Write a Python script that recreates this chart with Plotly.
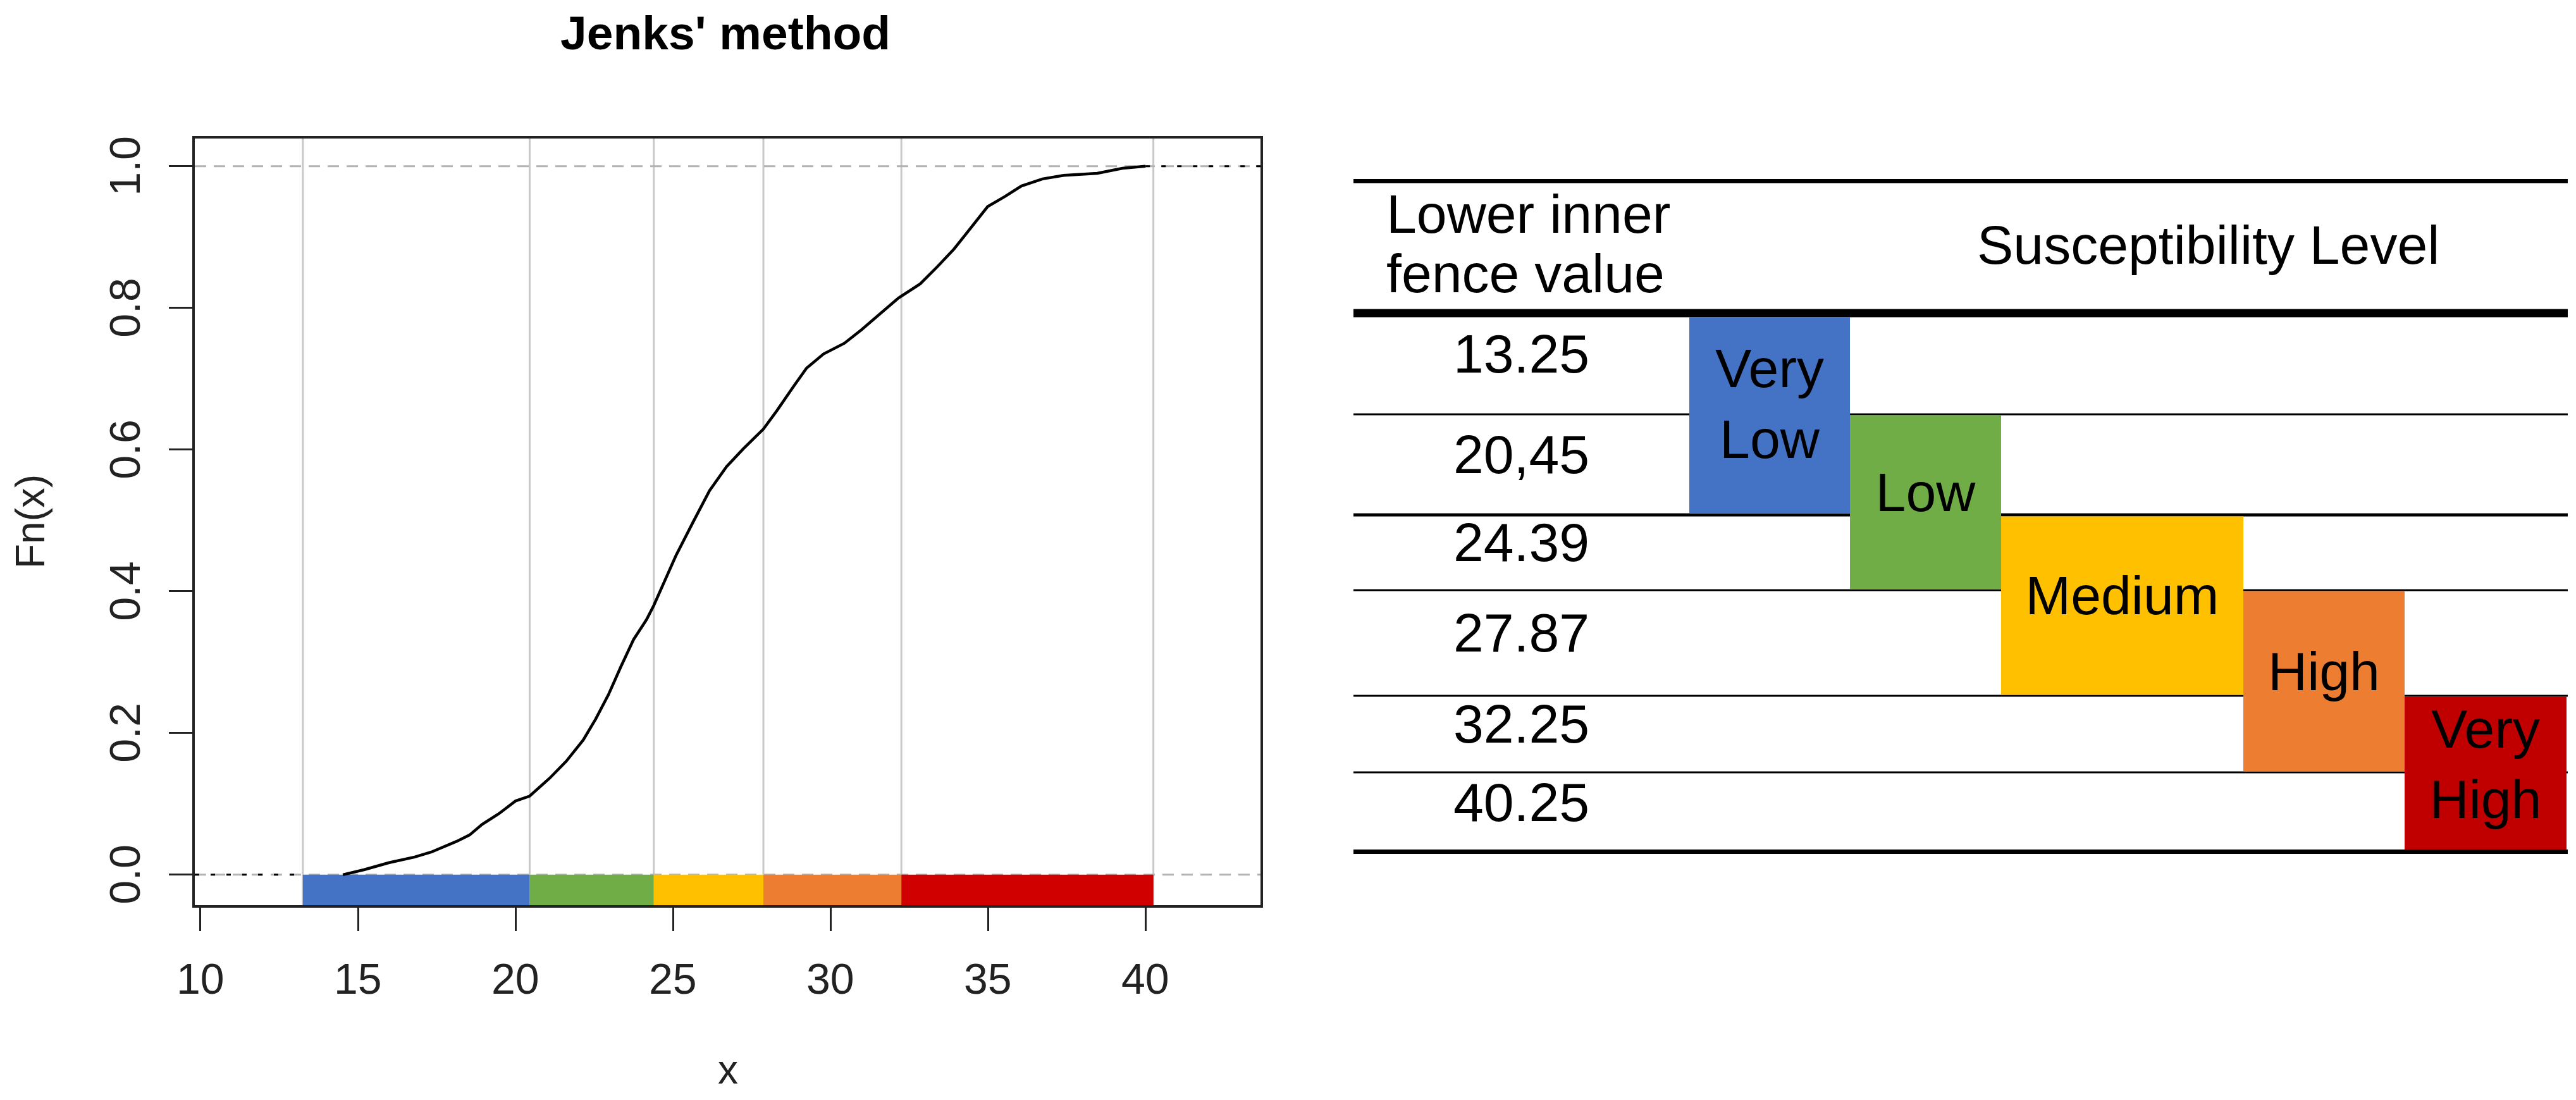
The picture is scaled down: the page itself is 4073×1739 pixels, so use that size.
import plotly.graph_objects as go

# ---------------- data ----------------
ecdf_x = [14.52, 15.19, 15.99, 16.80, 17.33, 18.13, 18.54, 18.94, 19.47, 20.00, 20.45,
          21.08, 21.61, 22.15, 22.55, 22.95, 23.35, 23.75, 24.16, 24.39, 24.69, 25.09,
          25.63, 26.16, 26.70, 27.23, 27.87, 28.30, 28.84, 29.24, 29.78, 30.44, 30.98,
          31.51, 32.16, 32.85, 33.39, 33.92, 34.46, 34.99, 35.53, 36.06, 36.73, 37.40,
          38.47, 39.27, 40.00]
ecdf_y = [0.000, 0.007, 0.017, 0.025, 0.032, 0.047, 0.056, 0.071, 0.086, 0.104, 0.111,
          0.136, 0.160, 0.190, 0.220, 0.254, 0.294, 0.332, 0.360, 0.380, 0.410, 0.450,
          0.497, 0.542, 0.576, 0.601, 0.629, 0.655, 0.690, 0.715, 0.735, 0.750, 0.769,
          0.789, 0.814, 0.834, 0.858, 0.883, 0.913, 0.943, 0.957, 0.972, 0.982, 0.987,
          0.990, 0.997, 1.000]
breaks = [13.25, 20.45, 24.39, 27.87, 32.25, 40.25]
fence_labels = ["13.25", "20,45", "24.39", "27.87", "32.25", "40.25"]
levels = ["Very<br>Low", "Low", "Medium", "High", "Very<br>High"]
level_colors = ["#4472C4", "#70AD47", "#FFC000", "#ED7D31", "#C00000"]
bar_colors = ["#4472C4", "#70AD47", "#FFC000", "#ED7D31", "#D00000"]
x_ticks = [10, 15, 20, 25, 30, 35, 40]
x_ticktext = ["10", "15", "20", "25", "30", "35", "40"]
y_ticks = [0.0, 0.2, 0.4, 0.6, 0.8, 1.0]
y_ticktext = ["0.0", "0.2", "0.4", "0.6", "0.8", "1.0"]

# ---------------- layout constants ----------------
W, H = 4073, 1739          # window size
OFF = 8                    # default body margin of the page
FW, FH = W - 2 * OFF, H - 2 * OFF
XR = [9.82, 43.65]
YR = [-0.043, 1.039]
plot_px = dict(l=308, r=1993, t=219, b=1431)
tab_px = dict(l=2140, r=4060, t=283, b=1350)
xtick_label_y = 1547
ytick_label_x = 197
col_widths = [531, 254, 239, 383, 255, 256]
row_heights = [212, 160, 159, 119, 167, 121, 127]
row_line_widths = [13, 13, 3, 5, 3, 3, 3, 10]
text_nudge = -8
FONT = "Liberation Sans, Arial, sans-serif"
INK = "#222222"


def fx(px):
    return (px - OFF) / FW


def fy(py):
    return 1 - (py - OFF) / FH


col_edges = [0]
for w in col_widths:
    col_edges.append(col_edges[-1] + w)
row_edges = [0]
for h in row_heights:
    row_edges.append(row_edges[-1] + h)
tab_w = tab_px["r"] - tab_px["l"]
tab_h = tab_px["b"] - tab_px["t"]

fig = go.Figure()

# ECDF curve
fig.add_trace(go.Scatter(x=ecdf_x, y=ecdf_y, mode="lines",
                         line=dict(color="black", width=4.5), xaxis="x", yaxis="y",
                         showlegend=False, hoverinfo="skip"))
# dotted extensions
fig.add_trace(go.Scatter(x=[XR[0], breaks[0]], y=[0, 0], mode="lines",
                         line=dict(color="black", width=3, dash="7px,18px"),
                         showlegend=False, hoverinfo="skip"))
fig.add_trace(go.Scatter(x=[ecdf_x[-1], XR[1]], y=[1, 1], mode="lines",
                         line=dict(color="black", width=3, dash="7px,18px"),
                         showlegend=False, hoverinfo="skip"))

shapes = []
for b in breaks:
    shapes.append(dict(type="line", xref="x", yref="y", x0=b, x1=b, y0=YR[0], y1=YR[1],
                       line=dict(color="#c8c8c8", width=3), layer="below"))
for hv in [0, 1]:
    shapes.append(dict(type="line", xref="x", yref="y", x0=XR[0], x1=XR[1], y0=hv, y1=hv,
                       line=dict(color="#b3b3b3", width=3, dash="18px,12px"), layer="below"))
for i in range(len(breaks) - 1):
    shapes.append(dict(type="rect", xref="x", yref="y", x0=breaks[i], x1=breaks[i + 1],
                       y0=YR[0], y1=0, fillcolor=bar_colors[i], line=dict(width=0),
                       layer="below"))

# table lines
for e, lw in zip(row_edges, row_line_widths):
    shapes.append(dict(type="line", xref="x2", yref="y2", x0=0, x1=tab_w, y0=e, y1=e,
                       line=dict(color="black", width=lw), layer="below"))
# level boxes: level i spans table rows i+1 and i+2
for i, c in enumerate(level_colors):
    top = row_edges[i + 1] + row_line_widths[i + 1] / 2
    bot = row_edges[i + 3] - row_line_widths[i + 3] / 2
    shapes.append(dict(type="rect", xref="x2", yref="y2", x0=col_edges[i + 1],
                       x1=col_edges[i + 2], y0=top, y1=bot, fillcolor=c, line=dict(width=0),
                       layer="below"))

# fence values text
row_centers = [(row_edges[k] + row_edges[k + 1]) / 2 + text_nudge
               for k in range(1, len(row_edges) - 1)]
fig.add_trace(go.Scatter(x=[col_edges[1] / 2] * len(fence_labels), y=row_centers,
                         text=fence_labels, mode="text", textposition="middle center",
                         textfont=dict(family=FONT, size=86, color="black"),
                         xaxis="x2", yaxis="y2", showlegend=False, hoverinfo="skip"))
# level labels
lx = [(col_edges[i + 1] + col_edges[i + 2]) / 2 for i in range(len(levels))]
ly = [(row_edges[i + 1] + row_edges[i + 3]) / 2 + text_nudge for i in range(len(levels))]
fig.add_trace(go.Scatter(x=lx, y=ly, text=levels, mode="text", textposition="middle center",
                         textfont=dict(family=FONT, size=86, color="black"),
                         xaxis="x2", yaxis="y2", showlegend=False, hoverinfo="skip"))

hc = row_heights[0] / 2
annotations = [
    dict(text="<b>Jenks' method</b>", xref="paper", yref="paper",
         x=fx((plot_px["l"] + plot_px["r"]) / 2 - 4), y=1.0, showarrow=False,
         xanchor="center", yanchor="top", font=dict(family=FONT, size=75, color="black")),
    dict(text="Fn(x)", xref="paper", yref="paper", x=fx(48),
         y=fy((plot_px["t"] + plot_px["b"]) / 2), textangle=-90, showarrow=False,
         xanchor="center", yanchor="middle", font=dict(family=FONT, size=64, color=INK)),
    dict(text="x", xref="paper", yref="paper",
         x=fx((plot_px["l"] + plot_px["r"]) / 2), y=fy(1729), showarrow=False,
         xanchor="center", yanchor="bottom", font=dict(family=FONT, size=64, color=INK)),
    dict(text="Lower inner", xref="x2", yref="y2", x=50, y=hc - 51, showarrow=False,
         xanchor="left", yanchor="middle", font=dict(family=FONT, size=86, color="black")),
    dict(text="fence value", xref="x2", yref="y2", x=50, y=hc + 43, showarrow=False,
         xanchor="left", yanchor="middle", font=dict(family=FONT, size=86, color="black")),
    dict(text="Susceptibility Level", xref="x2", yref="y2",
         x=(col_edges[2] + col_edges[-1]) / 2, y=hc - 2, showarrow=False,
         xanchor="center", yanchor="middle", font=dict(family=FONT, size=86, color="black")),
]
# tick labels placed as in the R graphic
for v, t in zip(x_ticks, x_ticktext):
    annotations.append(dict(text=t, xref="x", yref="paper", x=v, y=fy(xtick_label_y),
                            showarrow=False, xanchor="center", yanchor="middle",
                            font=dict(family=FONT, size=68, color=INK)))
for v, t in zip(y_ticks, y_ticktext):
    annotations.append(dict(text=t, xref="paper", yref="y", x=fx(ytick_label_x), y=v,
                            textangle=-90, showarrow=False, xanchor="center",
                            yanchor="middle", font=dict(family=FONT, size=68, color=INK)))

axis_common = dict(showline=True, mirror=True, linewidth=4, linecolor=INK, ticks="outside",
                   ticklen=37, tickwidth=3, tickcolor=INK, showgrid=False, zeroline=False,
                   showticklabels=False, fixedrange=True, automargin=False)

fig.update_layout(
    width=FW, height=FH, autosize=False,
    margin=dict(l=0, r=0, t=0, b=0, pad=0),
    paper_bgcolor="white", plot_bgcolor="white",
    showlegend=False,
    shapes=shapes, annotations=annotations,
    xaxis=dict(domain=[fx(plot_px["l"]), fx(plot_px["r"])], range=XR, tickvals=x_ticks,
               anchor="y", **axis_common),
    yaxis=dict(domain=[fy(plot_px["b"]), fy(plot_px["t"])], range=YR,
               tickvals=y_ticks, anchor="x", **axis_common),
    xaxis2=dict(domain=[fx(tab_px["l"]), fx(tab_px["r"])], range=[0, tab_w], visible=False,
                anchor="y2", fixedrange=True, automargin=False),
    yaxis2=dict(domain=[fy(tab_px["b"]), fy(tab_px["t"])], range=[tab_h, 0],
                visible=False, anchor="x2", fixedrange=True, automargin=False),
)

fig.write_html("out.html")
